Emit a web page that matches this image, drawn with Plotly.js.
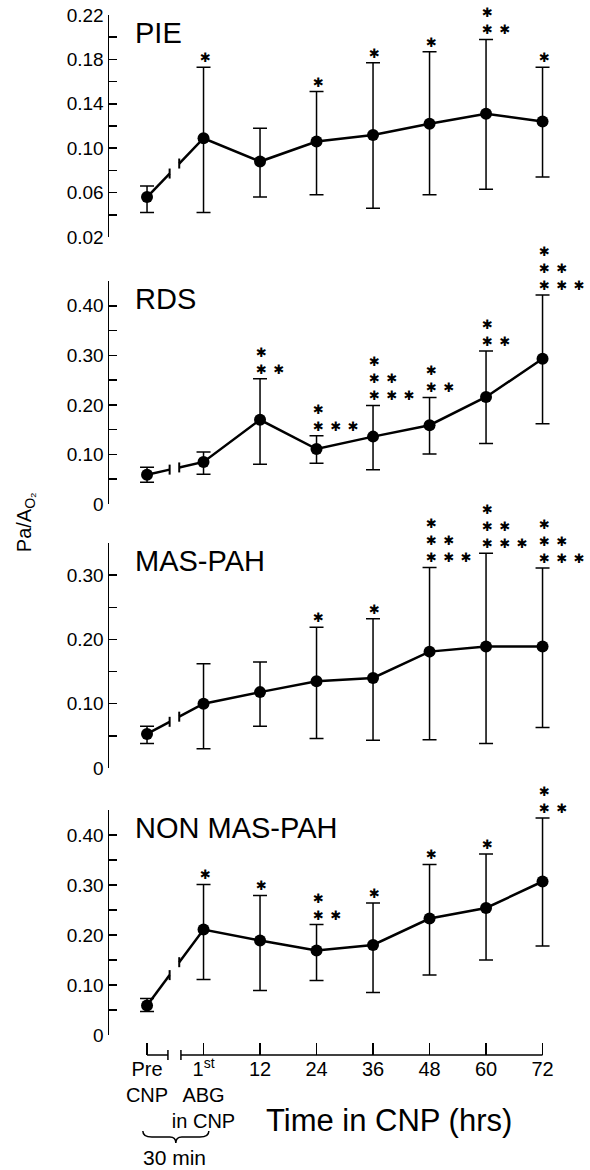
<!DOCTYPE html>
<html>
<head>
<meta charset="utf-8">
<script src="https://cdn.plot.ly/plotly-3.0.1.min.js"></script>
<style>html,body{margin:0;padding:0;background:#fff;}#chart{width:590px;height:1170px;}</style>
</head>
<body>
<div id="chart"></div>
<script>
// ---- data ----
var categories = ["Pre<br>CNP", "1<sup>st</sup><br>ABG<br>in CNP", "12", "24", "36", "48", "60", "72"];
var panelNames = ["PIE", "RDS", "MAS-PAH", "NON MAS-PAH"];

var pieMean  = [0.056, 0.109, 0.088, 0.106, 0.112, 0.122, 0.131, 0.124];
var pieUpper = [0.066, 0.173, 0.118, 0.151, 0.177, 0.187, 0.198, 0.173];
var pieLower = [0.042, 0.042, 0.056, 0.058, 0.046, 0.058, 0.063, 0.074];
var pieStars = [[], [1], [], [1], [1], [1], [1, 2], [1]];

var rdsMean  = [0.059, 0.085, 0.170, 0.111, 0.136, 0.159, 0.216, 0.293];
var rdsUpper = [0.074, 0.105, 0.253, 0.138, 0.199, 0.215, 0.309, 0.422];
var rdsLower = [0.044, 0.060, 0.080, 0.082, 0.069, 0.101, 0.122, 0.162];
var rdsStars = [[], [], [1, 2], [1, 3], [1, 2, 3], [1, 2], [1, 2], [1, 2, 3]];

var masMean  = [0.053, 0.100, 0.118, 0.135, 0.140, 0.181, 0.189, 0.189];
var masUpper = [0.065, 0.162, 0.165, 0.219, 0.232, 0.312, 0.334, 0.311];
var masLower = [0.038, 0.030, 0.065, 0.046, 0.043, 0.044, 0.038, 0.063];
var masStars = [[], [], [], [1], [1], [1, 2, 3], [1, 2, 3], [1, 2, 3]];

var nonMean  = [0.059, 0.211, 0.189, 0.169, 0.180, 0.233, 0.254, 0.307];
var nonUpper = [0.073, 0.301, 0.279, 0.221, 0.264, 0.341, 0.362, 0.434];
var nonLower = [0.047, 0.111, 0.089, 0.109, 0.085, 0.120, 0.150, 0.178];
var nonStars = [[], [1], [1], [1, 2], [1], [1], [1], [1, 2]];

var pieTicks = [0.02, 0.06, 0.10, 0.14, 0.18, 0.22];
var pieTickText = ["0.02", "0.06", "0.10", "0.14", "0.18", "0.22"];
var pieMinor = [0.04, 0.08, 0.12, 0.16, 0.20];
var rdsTicks = [0, 0.10, 0.20, 0.30, 0.40];
var rdsTickText = ["0", "0.10", "0.20", "0.30", "0.40"];
var rdsMinor = [0.05, 0.15, 0.25, 0.35, 0.45];
var masTicks = [0, 0.10, 0.20, 0.30];
var masTickText = ["0", "0.10", "0.20", "0.30"];
var masMinor = [0.05, 0.15, 0.25, 0.35];
var nonTicks = [0, 0.10, 0.20, 0.30, 0.40];
var nonTickText = ["0", "0.10", "0.20", "0.30", "0.40"];
var nonMinor = [0.05, 0.15, 0.25, 0.35, 0.45];

var yRanges = [[0.02, 0.22], [0, 0.45], [0, 0.35], [0, 0.45]];
var breakX = [0.40, 0.57];

// ---- build ----
var FONT = "Liberation Sans, Arial, sans-serif";
var STAR = "\u2731";
var panels = [
  {mean: pieMean, up: pieUpper, lo: pieLower, stars: pieStars, ticks: pieTicks, text: pieTickText, minor: pieMinor},
  {mean: rdsMean, up: rdsUpper, lo: rdsLower, stars: rdsStars, ticks: rdsTicks, text: rdsTickText, minor: rdsMinor},
  {mean: masMean, up: masUpper, lo: masLower, stars: masStars, ticks: masTicks, text: masTickText, minor: masMinor},
  {mean: nonMean, up: nonUpper, lo: nonLower, stars: nonStars, ticks: nonTicks, text: nonTickText, minor: nonMinor}
];
var domains = [[0.7865, 1.0], [0.5298, 0.7442], [0.2760, 0.4923], [0.0192, 0.2356]];

var xIdx = categories.map(function (c, i) { return i; });
var traces = [], shapes = [], annotations = [];
var layout = {
  width: 590, height: 1170,
  margin: {l: 109, r: 10, t: 15, b: 115},
  paper_bgcolor: "#fff", plot_bgcolor: "#fff",
  showlegend: false,
  font: {family: FONT, color: "#000"},
  xaxis: {
    range: [-0.673, 7.663], anchor: "free", position: 0,
    showline: false, showgrid: false, zeroline: false,
    tickmode: "array", tickvals: xIdx, ticktext: categories, tickangle: 0,
    ticks: "inside", ticklen: 12, tickwidth: 1.5, tickcolor: "#000",
    tickfont: {size: 20, family: FONT, color: "#000"}
  }
};

panels.forEach(function (p, k) {
  var yname = k === 0 ? "y" : "y" + (k + 1);
  var ykey = k === 0 ? "yaxis" : "yaxis" + (k + 1);
  layout[ykey] = {
    domain: domains[k], range: yRanges[k], anchor: "x",
    showline: true, linewidth: 1.5, linecolor: "#000",
    showgrid: false, zeroline: false,
    tickmode: "array", tickvals: p.ticks, ticktext: p.text,
    ticks: "inside", ticklen: 8, tickwidth: 1.5, tickcolor: "#000",
    tickfont: {size: 19, family: FONT, color: "#000"},
    minor: {tickmode: "array", tickvals: p.minor, ticks: "inside", ticklen: 8, tickwidth: 1.5, tickcolor: "#000", showgrid: false}
  };
  var m = p.mean;
  var yb0 = m[0] + (m[1] - m[0]) * breakX[0];
  var yb1 = m[0] + (m[1] - m[0]) * breakX[1];
  traces.push({x: [0, breakX[0]], y: [m[0], yb0], xaxis: "x", yaxis: yname,
    mode: "lines", line: {color: "#000", width: 2.5}, hoverinfo: "skip"});
  traces.push({x: [breakX[1]].concat(xIdx.slice(1)), y: [yb1].concat(m.slice(1)), xaxis: "x", yaxis: yname,
    mode: "lines", line: {color: "#000", width: 2.5}, hoverinfo: "skip"});
  traces.push({x: xIdx, y: m, xaxis: "x", yaxis: yname, mode: "markers",
    marker: {color: "#000", size: 12},
    error_y: {type: "data", symmetric: false,
      array: p.up.map(function (u, i) { return u - m[i]; }),
      arrayminus: p.lo.map(function (l, i) { return m[i] - l; }),
      color: "#000", thickness: 1.5, width: 7},
    cliponaxis: false});
  // break ticks
  [[breakX[0], yb0], [breakX[1], yb1]].forEach(function (b) {
    shapes.push({type: "line", xref: "x", yref: yname, x0: b[0], x1: b[0],
      ysizemode: "pixel", yanchor: b[1], y0: -5, y1: 5, line: {color: "#000", width: 2}});
  });
  // panel title
  annotations.push({xref: "paper", yref: "paper", x: 0.051, y: domains[k][1], xanchor: "left", yanchor: "top",
    text: panelNames[k], showarrow: false, font: {size: 29, family: FONT, color: "#000"}});
  // significance stars: one text block per point, rows top to bottom
  p.stars.forEach(function (rows, i) {
    if (!rows.length) return;
    var txt = rows.map(function (cnt) {
      var a = [];
      for (var s = 0; s < cnt; s++) a.push(STAR);
      return a.join("\u2002");
    }).join("<br>");
    annotations.push({xref: "x", yref: yname, x: i, y: p.up[i], text: txt, showarrow: false,
      align: "left", xanchor: "left", yanchor: "bottom", xshift: -6, yshift: 0,
      font: {size: 13, family: "DejaVu Sans", color: "#000"}});
  });
});

// bottom axis baseline with break
shapes.push({type: "line", xref: "x", yref: "paper", x0: 0, x1: breakX[0] - 0.03, y0: 0, y1: 0, line: {color: "#000", width: 1.5}});
shapes.push({type: "line", xref: "x", yref: "paper", x0: breakX[1] + 0.03, x1: xIdx[xIdx.length - 1], y0: 0, y1: 0, line: {color: "#000", width: 1.5}});
[breakX[0] - 0.03, breakX[1] + 0.03].forEach(function (bx) {
  shapes.push({type: "line", xref: "x", yref: "paper", x0: bx, x1: bx, ysizemode: "pixel", yanchor: 0, y0: -5, y1: 5, line: {color: "#000", width: 1.5}});
});
// brace under Pre..1st
shapes.push({type: "path", xref: "x", yref: "paper", xsizemode: "pixel", ysizemode: "pixel", xanchor: 0.51, yanchor: -0.073,
  path: "M-33,0 Q-33,-6 -24,-6 L-6,-6 Q0,-6 0,-12 Q0,-6 6,-6 L24,-6 Q33,-6 33,0",
  line: {color: "#000", width: 1.5}});

annotations.push({xref: "x", yref: "paper", x: 0.48, y: -0.099, text: "30 min", showarrow: false,
  xanchor: "center", yanchor: "middle", font: {size: 21, family: FONT, color: "#000"}});
annotations.push({xref: "paper", yref: "paper", x: 0.594, y: -0.0625, text: "Time in CNP (hrs)", showarrow: false,
  xanchor: "center", yanchor: "middle", font: {size: 31, family: FONT, color: "#000"}});
annotations.push({xref: "paper", yref: "paper", x: -0.178, y: 0.5125, text: "Pa/A<sub>O₂</sub>", showarrow: false,
  textangle: -90, xanchor: "center", yanchor: "middle", font: {size: 20, family: FONT, color: "#000"}});

layout.shapes = shapes;
layout.annotations = annotations;
Plotly.newPlot("chart", traces, layout, {staticPlot: true, displayModeBar: false});
</script>
</body>
</html>
